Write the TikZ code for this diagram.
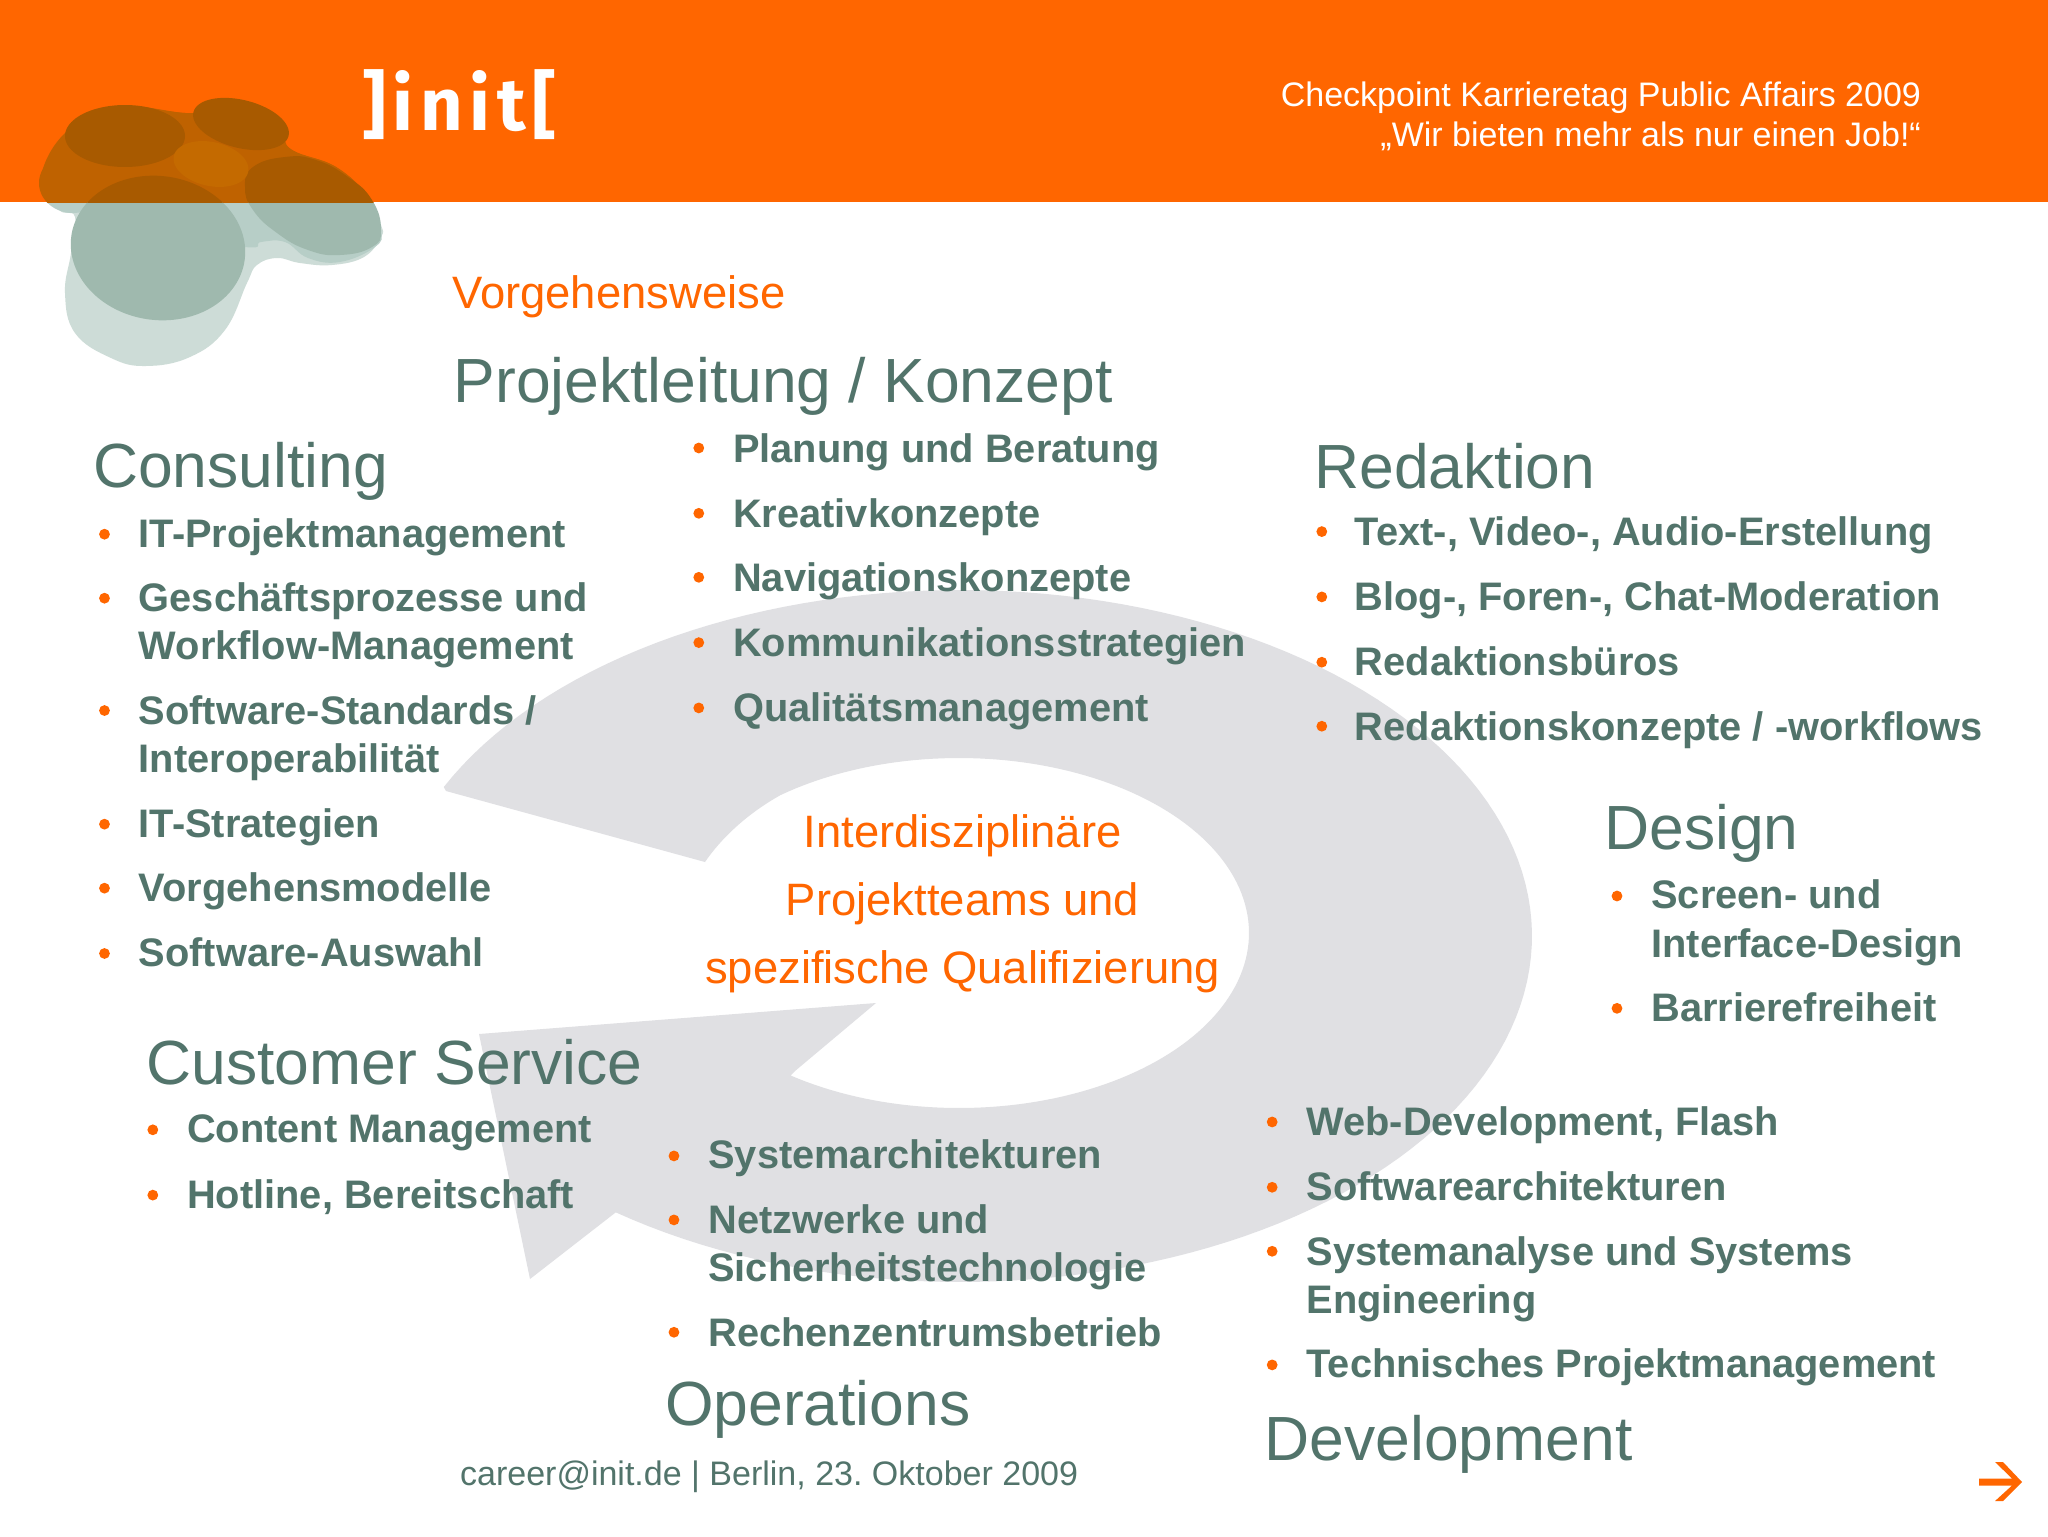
\documentclass[tikz,border=0pt]{standalone}
\usepackage{fontspec}
\setmainfont{Liberation Sans}
\newfontfamily\logofont[LetterSpace=9]{Fira Sans}
\frenchspacing
\definecolor{band}{HTML}{FF6600}
\definecolor{txt}{HTML}{52746B}
\definecolor{ringc}{HTML}{E0E0E3}
\definecolor{wl}{HTML}{CDDCD7}
\definecolor{wm}{HTML}{B7CEC7}
\definecolor{wd}{HTML}{9FB9AE}
\definecolor{ol}{HTML}{BF6200}
\definecolor{om}{HTML}{BF6200}
\definecolor{od}{HTML}{A85A00}
\definecolor{oc}{HTML}{C46A00}
\tikzset{
  head/.style={anchor=base west,inner sep=0,text=txt,font=\fontsize{31.2}{31.2}\selectfont},
  item/.style={anchor=base west,inner sep=0,text=txt,font=\fontsize{19.9}{19.9}\selectfont\bfseries},
  bul/.style={anchor=center,circle,inner sep=0,minimum size=5.4pt,fill=band},
  orangeT/.style={inner sep=0,text=band,font=\fontsize{22.7}{22.7}\selectfont},
  headR/.style={anchor=base east,inner sep=0,text=white,font=\fontsize{17}{17}\selectfont},
}
\newcommand{\ellip}[5]{plot[domain=0:360,samples=90,smooth cycle] ({#1+#3*cos(\x)*cos(#5)-#4*sin(\x)*sin(#5)},{#2+#3*cos(\x)*sin(#5)+#4*sin(\x)*cos(#5)})}
\newcommand{\blobsilh}{plot[smooth cycle,tension=.7] coordinates {(65,293)(75,333)(111,358)(146,366)(190,357)(225,330)(247,283)(257,265)(277,258)(300,263)(332,265)(364,257)(381,237)(381,225)(368,197)(336,167)(292,150)(277,130)(229,99)(194,113)(119,107)(65,133)(40,183)(59,210)(75,217)(71,253)}}
\newcommand{\blobmid}{plot[smooth cycle,tension=.7] coordinates {(100,200)(150,230)(245,247)(261,242)(285,242)(308,258)(340,262)(375,247)(381,230)(368,197)(336,167)(292,150)(277,130)(229,99)(194,113)(119,107)(80,130)(80,170)}}
\newcommand{\bloblobe}{plot[smooth cycle,tension=.8] coordinates {(245,187)(253,167)(285,157)(316,160)(348,177)(372,200)(381,230)(372,247)(340,255)(308,250)(277,233)(253,210)}}
\newcommand{\layer}[3]{%
  \begin{scope}\clip (0,202) rectangle (2048,1536); \fill[#2] #1; \end{scope}%
  \begin{scope}\clip (0,0) rectangle (2048,202); \fill[#3] #1; \end{scope}}
\begin{document}
\begin{tikzpicture}[x=.5pt,y=-.5pt]
\useasboundingbox (0,0) rectangle (2048,1536);
\fill[white] (0,0) rectangle (2048,1536);
\fill[band] (0,0) rectangle (2048,202);
\layer{\blobsilh}{wl}{ol}
\layer{\blobmid}{wm}{om}
\layer{\ellip{73}{183}{34}{30}{0}}{wm}{om}
\layer{\ellip{158}{248}{87.5}{72}{8}}{wd}{od}
\layer{\bloblobe}{wd}{od}
\layer{\ellip{125}{136}{60}{31}{0}}{wd}{od}
\layer{\ellip{241}{124}{49}{24}{14}}{wd}{od}
\layer{\ellip{211}{164}{38}{22}{12}}{wd}{oc}
% ring arrow
\fill[ringc] (446,791) -- plot[domain=205.5:487,samples=140] ({960+572*cos(\x)},{936+346*sin(\x)})
  -- (530,1279) -- (479,1034) -- (876,1003) -- (795,1071)
  -- plot[domain=125.5:-128,samples=140] ({959+290*cos(\x)},{933+175*sin(\x)})
  .. controls (745,815) and (720,840) .. (705,862) -- cycle;
% next arrow
\fill[band] (1979,1478.5) -- (2012,1478.5) -- (1995,1462) -- (2003,1462) -- (2022,1482) -- (2003,1501) -- (1995,1501) -- (2012,1485.5) -- (1979,1485.5) -- cycle;
\begin{scope}[x=.65306pt,y=-.65306pt]
\node[anchor=base west,inner sep=0,text=white,font=\logofont\bfseries\fontsize{37}{37}\selectfont] (logo) at (277,100) {]init[};
\node[headR] (h1) at (1471,81.5) {Checkpoint Karrieretag Public Affairs 2009};
\node[headR] (h2) at (1471,112) {„Wir bieten mehr als nur einen Job!“};
\node[orangeT,anchor=base west] (vor) at (346,236) {Vorgehensweise};
\node[head] (pk) at (347,308) {Projektleitung / Konzept};
\node[head] (cons) at (71,373) {Consulting};
\node[head] (red) at (1006,374) {Redaktion};
\node[head] (des) at (1228,650.5) {Design};
\node[head] (cs) at (112,830) {Customer Service};
\node[head] (ops) at (509,1091) {Operations};
\node[head] (dev) at (968,1118) {Development};
% centre
\node[orangeT,anchor=base] (c1) at (737,649) {Interdisziplinäre};
\node[orangeT,anchor=base] (c2) at (737,701) {Projektteams und};
\node[orangeT,anchor=base] (c3) at (737,753) {spezifische Qualifizierung};
% consulting
\node[bul] (b1) at (80,409) {}; \node[item] (i1) at (106,419) {IT-Projektmanagement};
\node[bul] (b2) at (80,458) {}; \node[item] (i2) at (106,468.5) {Geschäftsprozesse und};
\node[item] (i2b) at (106,505) {Workflow-Management};
\node[bul] (b3) at (80,544) {}; \node[item] (i3) at (106,554.5) {Software-Standards /};
\node[item] (i3b) at (106,591.5) {Interoperabilität};
\node[bul] (b4) at (80,631) {}; \node[item] (i4) at (106,641) {IT-Strategien};
\node[bul] (b5) at (80,680) {}; \node[item] (i5) at (106,690.5) {Vorgehensmodelle};
\node[bul] (b6) at (80,730) {}; \node[item] (i6) at (106,740) {Software-Auswahl};
% concept
\node[bul] (b7) at (535,343) {}; \node[item] (i7) at (561,354) {Planung und Beratung};
\node[bul] (b8) at (535,393) {}; \node[item] (i8) at (561,403.5) {Kreativkonzepte};
\node[bul] (b9) at (535,442) {}; \node[item] (i9) at (561,453) {Navigationskonzepte};
\node[bul] (b10) at (535,492) {}; \node[item] (i10) at (561,503) {Kommunikationsstrategien};
\node[bul] (b11) at (535,542) {}; \node[item] (i11) at (561,552.5) {Qualitätsmanagement};
% redaktion
\node[bul] (b12) at (1012,407) {}; \node[item] (i12) at (1037,418) {Text-, Video-, Audio-Erstellung};
\node[bul] (b13) at (1012,457) {}; \node[item] (i13) at (1037,467.5) {Blog-, Foren-, Chat-Moderation};
\node[bul] (b14) at (1012,507) {}; \node[item] (i14) at (1037,517.5) {Redaktionsbüros};
\node[bul] (b15) at (1012,556) {}; \node[item] (i15) at (1037,567) {Redaktionskonzepte / -workflows};
% design
\node[bul] (b16) at (1238,686) {}; \node[item] (i16) at (1264,695.5) {Screen- und};
\node[item] (i16b) at (1264,733) {Interface-Design};
\node[bul] (b17) at (1238,772) {}; \node[item] (i17) at (1264,782) {Barrierefreiheit};
% customer service
\node[bul] (b18) at (117,865) {}; \node[item] (i18) at (143,875) {Content Management};
\node[bul] (b19) at (117,915) {}; \node[item] (i19) at (143,925) {Hotline, Bereitschaft};
% operations
\node[bul] (b20) at (516,885) {}; \node[item] (i20) at (542,895) {Systemarchitekturen};
\node[bul] (b21) at (516,934) {}; \node[item] (i21) at (542,944.5) {Netzwerke und};
\node[item] (i21b) at (542,981) {Sicherheitstechnologie};
\node[bul] (b22) at (516,1020) {}; \node[item] (i22) at (542,1031) {Rechenzentrumsbetrieb};
% development
\node[bul] (b23) at (974,859) {}; \node[item] (i23) at (1000,869) {Web-Development, Flash};
\node[bul] (b24) at (974,909) {}; \node[item] (i24) at (1000,919.5) {Softwarearchitekturen};
\node[bul] (b25) at (974,958) {}; \node[item] (i25) at (1000,969) {Systemanalyse und Systems};
\node[item] (i25b) at (1000,1006) {Engineering};
\node[bul] (b26) at (974,1045) {}; \node[item] (i26) at (1000,1055) {Technisches Projektmanagement};
\node[anchor=base west,inner sep=0,text=txt,font=\fontsize{17}{17}\selectfont] (foot) at (352,1137) {career@init.de | Berlin, 23. Oktober 2009};
\end{scope}
\end{tikzpicture}
\end{document}
